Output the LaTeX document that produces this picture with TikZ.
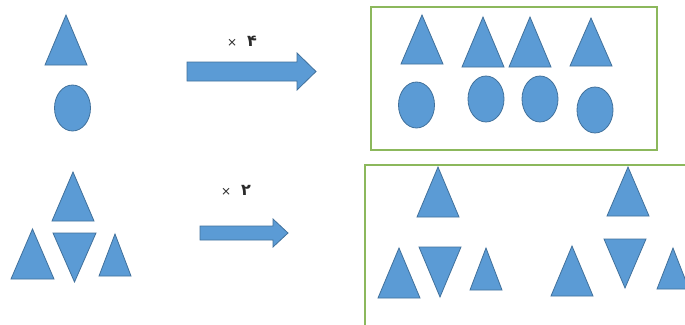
\documentclass[tikz,border=0pt]{standalone}
\usepackage{fontspec}
\newfontfamily\arabicfont[Script=Arabic]{DejaVu Sans}
\definecolor{shapeblue}{HTML}{5B9BD5}
\definecolor{shapeedge}{HTML}{41719C}
\definecolor{boxgreen}{HTML}{8CB85C}
\definecolor{labelgray}{HTML}{2A2A2A}
\tikzset{
  bluefill/.style={fill=shapeblue, draw=shapeedge, line width=0.8pt, line join=miter},
  greenbox/.style={draw=boxgreen, line width=1.6pt},
  multlabel/.style={font=\arabicfont\fontsize{12}{14}\selectfont, text=labelgray, inner sep=0pt}
}
% \mytri{apex x}{apex y}{base y}{half width}
\newcommand\mytri[4]{\draw[bluefill] (#1,#2) -- (#1-#4,#3) -- (#1+#4,#3) -- cycle;}
% \myinvtri{apex x}{apex y (bottom)}{top y}{half width}
\newcommand\myinvtri[4]{\draw[bluefill] (#1,#2) -- (#1-#4,#3) -- (#1+#4,#3) -- cycle;}
\newcommand\myoval[2]{\draw[bluefill] (#1,#2) ellipse [x radius=18, y radius=23];}
\newcommand\bigdigit[1]{{\fontsize{16}{18}\selectfont\bfseries #1}}
\begin{document}
\begin{tikzpicture}[x=1pt,y=-1pt]
\clip (0,0) rectangle (685,324);
\fill[white] (0,0) rectangle (685,324);

% ---- top row: source
\mytri{66}{15}{65}{21}
\myoval{72.5}{108}

% top arrow
\draw[bluefill] (187,62) -- (297,62) -- (297,53) -- (316,71.5) -- (297,90) -- (297,81) -- (187,81) -- cycle;
\node[multlabel] (lab1) at (242,41) {×\hspace{10pt}\bigdigit{۴}};

% top result box
\draw[greenbox] (371,7) rectangle (657,150);
\mytri{422}{15}{64}{21}
\mytri{483}{17}{67}{21}
\mytri{530}{17}{67}{21}
\mytri{591}{18}{66}{21}
\myoval{416.5}{105}
\myoval{486}{99}
\myoval{540}{99}
\myoval{595}{110}

% ---- bottom row: source
\mytri{73}{172}{221}{21}
\mytri{32.5}{229}{279}{21.5}
\myinvtri{74.5}{282}{233}{21.5}
\mytri{115}{234}{276}{16}

% bottom arrow
\draw[bluefill] (200,226) -- (273,226) -- (273,219) -- (288,233) -- (273,247) -- (273,240) -- (200,240) -- cycle;
\node[multlabel] (lab2) at (236,190) {×\hspace{10pt}\bigdigit{۲}};

% bottom result box
\draw[greenbox] (365,165) rectangle (720,345);
\mytri{438}{167}{217}{21}
\mytri{399}{248}{298}{21}
\myinvtri{440}{297}{247}{21}
\mytri{486}{248}{290}{16}

\mytri{628}{167}{216}{21}
\mytri{572}{246}{296}{21}
\myinvtri{625}{288}{239}{21}
\mytri{673}{248}{289}{16}
\end{tikzpicture}
\end{document}
